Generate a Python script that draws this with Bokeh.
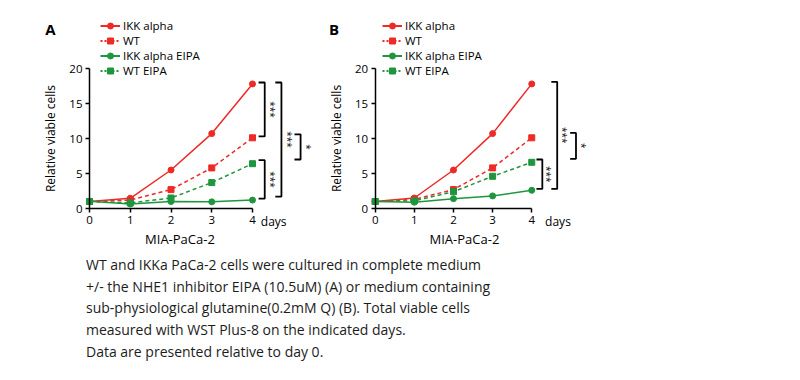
import math
from bokeh.plotting import figure
from bokeh.models import Range1d, Legend, LegendItem, Label, Div, FixedTicker, ColumnDataSource
from bokeh.layouts import row, column
from bokeh.core.properties import value
from bokeh.embed import file_html
from bokeh.resources import INLINE

# ---------------- data ----------------
days = [0, 1, 2, 3, 4]
x_ticks = [0, 1, 2, 3, 4]
y_ticks = [0, 5, 10, 15, 20]
series_names = ["IKK alpha", "WT", "IKK alpha EIPA", "WT EIPA"]

a_ikk = [1.0, 1.45, 5.5, 10.7, 17.8]
a_wt = [1.0, 1.2, 2.7, 5.8, 10.1]
a_ikk_eipa = [1.05, 0.65, 1.0, 0.95, 1.2]
a_wt_eipa = [1.0, 0.8, 1.5, 3.7, 6.4]

b_ikk = [1.0, 1.5, 5.5, 10.7, 17.8]
b_wt = [1.0, 1.3, 2.7, 5.8, 10.1]
b_ikk_q = [1.0, 0.9, 1.4, 1.8, 2.6]
b_wt_q = [1.0, 1.1, 2.4, 4.6, 6.6]

# significance brackets
a_br_top = [18.0, 6.9, 18.0, 10.6]
a_br_bot = [10.3, 1.4, 1.7, 7.0]
a_br_x = [4.30, 4.30, 4.71, 5.18]
a_br_tx = [4.45, 4.45, 4.86, 5.34]
a_br_lab = ["***", "***", "***", "*"]

b_br_top = [18.1, 7.0, 10.8]
b_br_bot = [2.8, 2.8, 7.1]
b_br_x = [4.65, 4.27, 5.13]
b_br_tx = [4.80, 4.38, 5.28]
b_br_lab = ["***", "***", "*"]

caption_lines = [
    "WT and IKKa PaCa-2 cells were cultured in complete medium",
    "+/- the NHE1 inhibitor EIPA (10.5uM) (A) or medium containing",
    "sub-physiological glutamine(0.2mM Q) (B). Total viable cells",
    "measured with WST Plus-8 on the indicated days.",
    "Data are presented relative to day 0.",
]

RED = "#ee2a26"
GREEN = "#1f963e"
FONT = "Open Sans"
H = 254          # figure height (px)
Y0_PX = 208      # pixel row of y = 0
PX_PER_Y = 7.0   # pixels per y unit


def make_panel(letter, series, br_top, br_bot, br_x, br_tx, br_lab,
               width, x0_px, px_per_x, legend_x, letter_x, days_x, mia_x):
    x_start = -x0_px / px_per_x
    x_end = x_start + width / px_per_x
    y_start = -(H - Y0_PX) / PX_PER_Y
    y_end = Y0_PX / PX_PER_Y
    p = figure(frame_width=width, frame_height=H,
               min_border_left=0, min_border_right=0,
               min_border_top=0, min_border_bottom=0,
               x_range=Range1d(x_start, x_end), y_range=Range1d(y_start, y_end),
               output_backend="svg", toolbar_location=None)
    p.outline_line_color = None
    p.grid.visible = False
    p.background_fill_color = "white"
    p.border_fill_color = "white"

    # axes pinned at 0
    p.xaxis.ticker = FixedTicker(ticks=x_ticks)
    p.xaxis.bounds = (0, 4)
    p.xaxis.fixed_location = 0
    p.yaxis.ticker = FixedTicker(ticks=y_ticks)
    p.yaxis.bounds = (0, 20)
    p.yaxis.fixed_location = 0
    for ax in (p.xaxis[0], p.yaxis[0]):
        ax.axis_line_width = 1.5
        ax.axis_line_color = "black"
        ax.major_tick_line_color = "black"
        ax.major_tick_line_width = 1.5
        ax.major_tick_out = 4
        ax.major_tick_in = 0
        ax.minor_tick_line_color = None
        ax.major_label_text_font = FONT
        ax.major_label_text_font_size = "11.5px"
        ax.major_label_text_color = "black"
        ax.major_label_standoff = 3
    p.yaxis.axis_label = "Relative viable cells"
    p.yaxis.axis_label_text_font = FONT
    p.yaxis.axis_label_text_font_size = "12px"
    p.yaxis.axis_label_text_font_style = "normal"
    p.yaxis.axis_label_text_color = "black"
    p.yaxis.axis_label_standoff = 7

    styles = [(RED, "solid", "circle"), (RED, "dashed", "square"),
              (GREEN, "solid", "circle"), (GREEN, "dashed", "square")]
    nan_vals = [float("nan")] * len(days)
    items = []
    for (name, ys), (col, dash, mk) in zip(series, styles):
        ld = "4 3" if dash == "dashed" else "solid"
        p.line(days, ys, line_color=col, line_width=1.5, line_dash=ld)
        p.scatter(days, ys, marker=mk, size=6, fill_color=col, line_color=col)
        # legend-only renderers (no visible points)
        lr = p.line(days, nan_vals, line_color=col, line_width=2,
                    line_dash=("2 2" if dash == "dashed" else "solid"))
        sr = p.scatter(days, nan_vals, marker=mk, size=9, fill_color=col, line_color=col)
        items.append(LegendItem(label=name, renderers=[lr, sr]))

    legend = Legend(items=items, location=(legend_x, H - 78),
                    glyph_width=20, glyph_height=15, label_height=15,
                    spacing=0, padding=0, margin=0, label_standoff=3,
                    label_text_font=FONT, label_text_font_size="11.5px",
                    label_text_color="black",
                    border_line_color=None, background_fill_alpha=0)
    p.add_layout(legend, "center")

    # significance brackets
    tip = 0.15
    xs = [[bx - tip, bx, bx, bx - tip] for bx in br_x]
    ys = [[t, t, b, b] for t, b in zip(br_top, br_bot)]
    p.multi_line(xs, ys, line_color="black", line_width=1.8)
    src = ColumnDataSource(dict(x=br_tx, y=[(t + b) / 2 for t, b in zip(br_top, br_bot)], t=br_lab))
    p.text(x="x", y="y", text="t", source=src, angle=-math.pi / 2,
           text_align="center", text_baseline="middle",
           text_font=value(FONT), text_font_size="10px", text_color="#111111")

    # labels
    p.add_layout(Label(x=letter_x, y=H - 28, x_units="screen", y_units="screen",
                       text=letter, text_font=FONT, text_font_size="15px",
                       text_font_style="bold", text_align="center",
                       text_baseline="middle", text_color="black"))
    p.add_layout(Label(x=days_x, y=H - 221, x_units="data", y_units="screen",
                       text="days", text_font=FONT, text_font_size="12px",
                       text_align="center", text_baseline="middle",
                       text_color="black"))
    p.add_layout(Label(x=mia_x, y=H - 238, x_units="data", y_units="screen",
                       text="MIA-PaCa-2", text_font=FONT, text_font_size="13px",
                       text_align="center", text_baseline="middle",
                       text_color="black"))
    return p


pA = make_panel("A", list(zip(series_names, [a_ikk, a_wt, a_ikk_eipa, a_wt_eipa])),
                a_br_top, a_br_bot, a_br_x, a_br_tx, a_br_lab,
                width=313, x0_px=89, px_per_x=40.75, legend_x=100, letter_x=50,
                days_x=4.52, mia_x=2.22)
pB = make_panel("B", list(zip(series_names, [b_ikk, b_wt, b_ikk_q, b_wt_q])),
                b_br_top, b_br_bot, b_br_x, b_br_tx, b_br_lab,
                width=287, x0_px=61.7, px_per_x=39.14, legend_x=69, letter_x=20.5,
                days_x=4.67, mia_x=2.28)

div = Div(text="<br>".join(caption_lines), width=520, margin=(0, 0, 0, 86),
          styles={"font-family": FONT, "font-size": "14px", "line-height": "21.7px",
                  "color": "#1c1c1c", "white-space": "nowrap"})

layout = column(row(pA, pB, spacing=0), div, spacing=0)
open("out.html", "w").write(file_html(layout, INLINE))
